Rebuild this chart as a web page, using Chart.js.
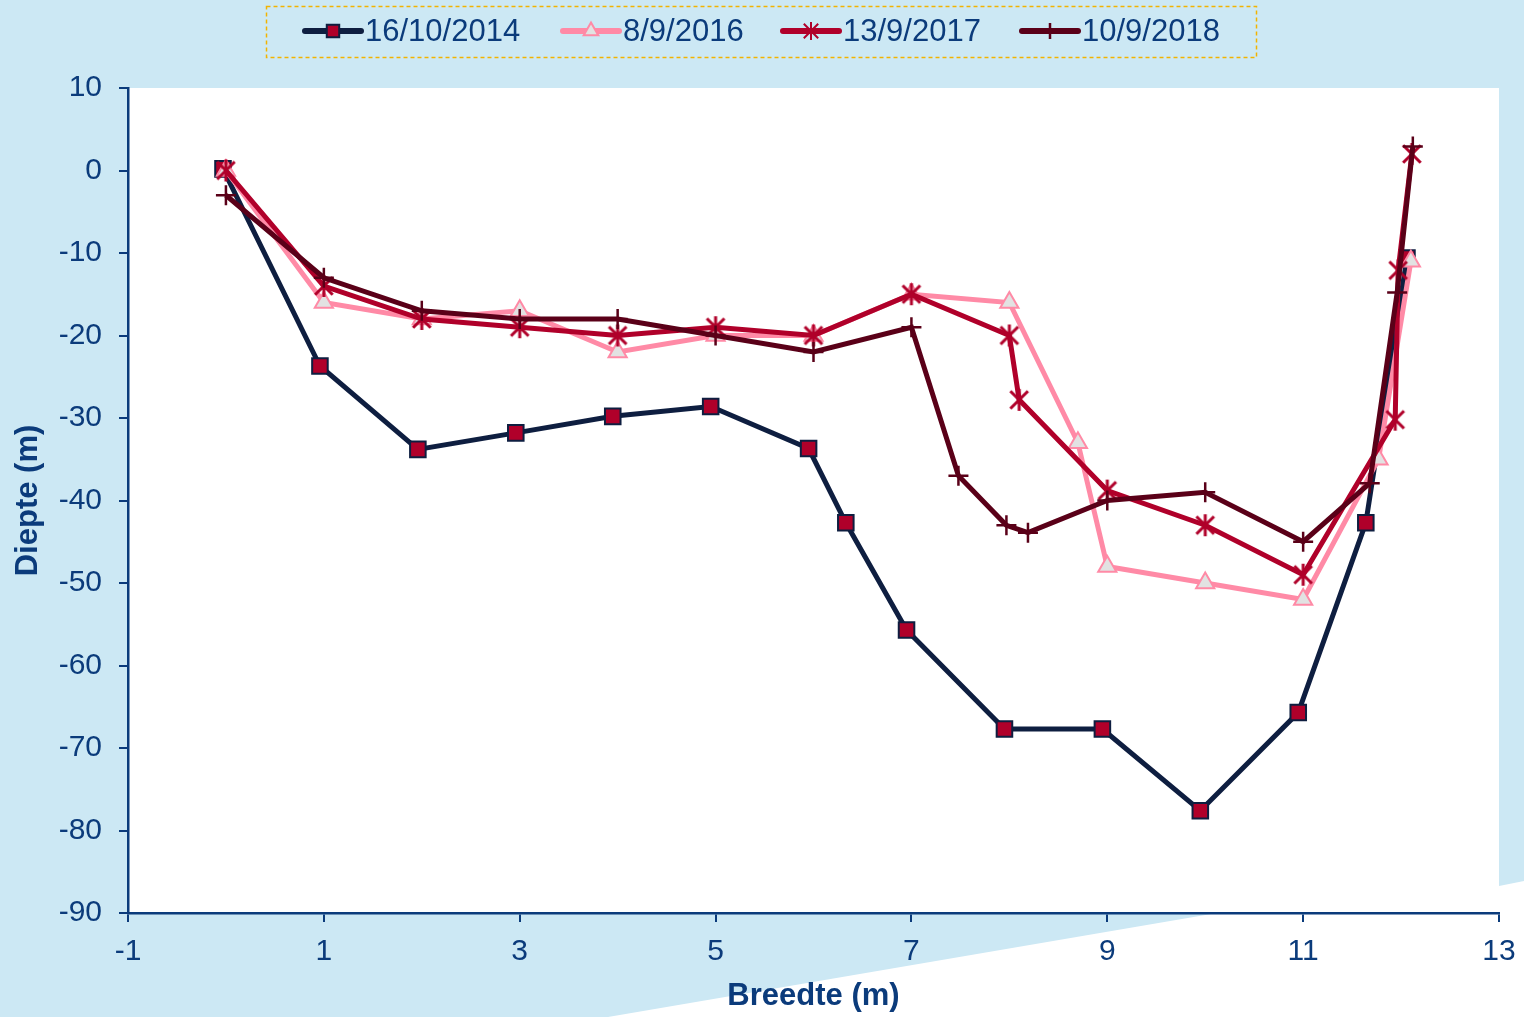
<!DOCTYPE html>
<html>
<head>
<meta charset="utf-8">
<script src="https://cdn.jsdelivr.net/npm/chart.js@4/dist/chart.umd.min.js"></script>
<style>
  html, body { margin: 0; padding: 0; background: #cce8f4; }
  #wrap { width: 1524px; height: 1017px; position: relative; }
</style>
</head>
<body>
<div id="wrap"><canvas id="c" width="1524" height="1017"></canvas></div>
<script>
// ---- data ----
const seriesLabels = ["16/10/2014", "8/9/2016", "13/9/2017", "10/9/2018"];

const x2014 = [-0.03, 0.96, 1.96, 2.96, 3.95, 4.95, 5.95, 6.33, 6.95, 7.95, 8.95, 9.95, 10.95, 11.64, 12.06];
const y2014 = [0.2, -23.7, -33.8, -31.8, -29.8, -28.6, -33.7, -42.7, -55.7, -67.7, -67.7, -77.6, -65.7, -42.7, -10.6];

const x2016 = [0, 1, 2, 3, 4, 5, 6, 7, 8, 8.7, 9, 10, 11, 11.77, 12.1];
const y2016 = [0, -16, -18, -17, -22, -20, -20, -15, -16, -33, -48, -50, -52, -35, -11];

const x2017 = [0, 1, 2, 3, 4, 5, 6, 7, 8, 8.1, 9, 10, 11, 11.94, 11.97, 12.11];
const y2017 = [0, -14, -18, -19, -20, -19, -20, -15, -20, -27.8, -38.8, -43, -49, -30.2, -12.1, 2.0];

const x2018 = [0, 1, 2, 3, 4, 5, 6, 7, 7.48, 7.97, 8.19, 9, 10, 11, 11.68, 11.96, 12.12];
const y2018 = [-3, -13, -17, -18, -18, -20, -22, -19, -37, -43, -43.9, -40, -39, -45, -37.9, -14.8, 2.9];

const xTickMin = -1, xTickMax = 13, xTickStep = 2;
const yTickMin = -90, yTickMax = 10, yTickStep = 10;
const xTitle = "Breedte (m)";
const yTitle = "Diepte (m)";

// ---- styling ----
const NAVY = "#0b3b7b";
const FONT = "'Liberation Sans', Arial, sans-serif";
const zip = (xs, ys) => xs.map((x, i) => ({ x: x, y: ys[i] }));

// asterisk marker (X + vertical bar)
function makeAsterisk(size, color, lw) {
  const c = document.createElement("canvas");
  c.width = size; c.height = size;
  const g = c.getContext("2d");
  const m = size / 2, h = size / 2 - lw;
  const d = h * 0.8;
  g.strokeStyle = color; g.lineWidth = lw; g.lineCap = "butt";
  g.beginPath();
  g.moveTo(m - d, m - d); g.lineTo(m + d, m + d);
  g.moveTo(m + d, m - d); g.lineTo(m - d, m + d);
  g.moveTo(m, m - h); g.lineTo(m, m + h);
  g.stroke();
  return c;
}
const starImg = makeAsterisk(28, "#b0002a", 3);
const starImgSmall = makeAsterisk(22, "#b0002a", 2);

const styles = [
  { line: "#0e1e40", fill: "#b0002a", stroke: "#0e1e40", style: "rect", r: 11, bw: 2, order: 4 },
  { line: "#ff8aa6", fill: "#e2e2e2", stroke: "#ff8aa6", style: "triangle", r: 10.5, bw: 2, order: 3 },
  { line: "#b0002a", fill: "#b0002a", stroke: "#b0002a", style: starImg, r: 12, bw: 3, order: 2 },
  { line: "#5a0018", fill: "#5a0018", stroke: "#5a0018", style: "cross", r: 10, bw: 2.5, order: 1 }
];
const seriesData = [zip(x2014, y2014), zip(x2016, y2016), zip(x2017, y2017), zip(x2018, y2018)];

const datasets = seriesData.map((d, i) => ({
  label: seriesLabels[i],
  data: d,
  showLine: true,
  borderColor: styles[i].line,
  borderWidth: 5,
  tension: 0,
  pointStyle: styles[i].style,
  pointRadius: styles[i].r,
  pointHoverRadius: styles[i].r,
  pointBackgroundColor: styles[i].fill,
  pointBorderColor: styles[i].stroke,
  pointBorderWidth: styles[i].bw,
  order: styles[i].order
}));

const bgPlugin = {
  id: "bg",
  beforeDraw(chart) {
    const ctx = chart.ctx, a = chart.chartArea;
    ctx.save();
    ctx.fillStyle = "#cce8f4";
    ctx.fillRect(0, 0, chart.width, chart.height);
    ctx.fillStyle = "#ffffff";
    ctx.beginPath();
    ctx.moveTo(608, chart.height);
    ctx.lineTo(1217, 913);
    ctx.lineTo(1499, 886);
    ctx.lineTo(chart.width, 881);
    ctx.lineTo(chart.width, chart.height);
    ctx.closePath();
    ctx.fill();
    ctx.fillRect(a.left, a.top, a.right - a.left, a.bottom - a.top);
    ctx.restore();
  }
};

const legendPlugin = {
  id: "customLegend",
  afterDraw(chart) {
    const ctx = chart.ctx;
    ctx.save();
    ctx.setLineDash([4, 3]);
    ctx.strokeStyle = "#f2b300";
    ctx.lineWidth = 1.5;
    ctx.strokeRect(266.5, 6.5, 990, 51);
    ctx.setLineDash([]);
    const items = [305, 563, 783, 1022];
    const cy = 31;
    chart.data.datasets.forEach((ds, i) => {
      const x0 = items[i], x1 = x0 + 56;
      ctx.strokeStyle = ds.borderColor;
      ctx.lineWidth = 6;
      ctx.lineCap = "round";
      ctx.beginPath();
      ctx.moveTo(x0, cy);
      ctx.lineTo(x1, cy);
      ctx.stroke();
      ctx.lineCap = "butt";
      const mx = (x0 + x1) / 2;
      if (i === 2) {
        ctx.drawImage(starImgSmall, mx - 11, cy - 11);
      } else if (Chart.helpers && Chart.helpers.drawPoint) {
        ctx.fillStyle = ds.pointBackgroundColor;
        ctx.strokeStyle = ds.pointBorderColor;
        ctx.lineWidth = ds.pointBorderWidth;
        Chart.helpers.drawPoint(ctx, {
          pointStyle: ds.pointStyle, rotation: 0,
          radius: ds.pointRadius * 0.8, borderWidth: ds.pointBorderWidth
        }, mx, cy);
      }
      ctx.fillStyle = NAVY;
      ctx.font = "31px " + FONT;
      ctx.textAlign = "left";
      ctx.textBaseline = "middle";
      ctx.fillText(ds.label, x1 + 4, cy + 1);
    });
    ctx.restore();
  }
};

new Chart(document.getElementById("c"), {
  type: "scatter",
  data: { datasets: datasets },
  options: {
    responsive: false,
    animation: false,
    devicePixelRatio: 1,
    layout: { padding: { top: 88, right: 25, left: 0, bottom: 0 } },
    plugins: { legend: { display: false }, tooltip: { enabled: false } },
    scales: {
      x: {
        type: "linear",
        min: xTickMin, max: xTickMax,
        afterFit(s) { s.height = 104; s.paddingLeft = 0; s.paddingRight = 0; },
        ticks: { stepSize: xTickStep, color: NAVY, font: { size: 30, family: FONT }, padding: 12 },
        grid: { drawOnChartArea: false, drawTicks: true, tickLength: 9, color: NAVY, lineWidth: 2 },
        border: { color: NAVY, width: 2.5 },
        title: { display: true, text: xTitle, color: NAVY, font: { size: 31, weight: "bold", family: FONT }, padding: { top: 0, bottom: 2 } }
      },
      y: {
        type: "linear",
        min: yTickMin, max: yTickMax,
        afterFit(s) { s.width = 128; s.paddingTop = 0; s.paddingBottom = 0; },
        ticks: { stepSize: yTickStep, color: NAVY, font: { size: 30, family: FONT }, padding: 17 },
        grid: { drawOnChartArea: false, drawTicks: true, tickLength: 9, color: NAVY, lineWidth: 2 },
        border: { color: NAVY, width: 2.5 },
        title: { display: true, text: yTitle, color: NAVY, font: { size: 31, weight: "bold", family: FONT }, padding: { top: 10, bottom: 0 } }
      }
    }
  },
  plugins: [bgPlugin, legendPlugin]
});
</script>
</body>
</html>
